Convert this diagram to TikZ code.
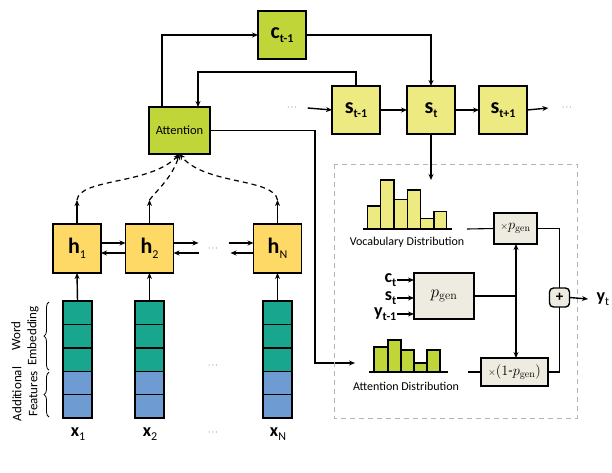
\documentclass[tikz,border=0pt]{standalone}
\usepackage[no-math]{fontspec}
\setmainfont{Carlito}
\usetikzlibrary{arrows.meta,positioning,decorations.pathreplacing}
\definecolor{attgreen}{RGB}{192,214,56}
\definecolor{decyellow}{RGB}{238,234,130}
\definecolor{encgold}{RGB}{255,217,102}
\definecolor{gatebeige}{RGB}{238,236,225}
\definecolor{embteal}{RGB}{24,166,142}
\definecolor{featblue}{RGB}{110,155,210}
\definecolor{framegray}{RGB}{180,180,180}
\newcommand{\vlab}[2]{\textbf{#1}\raisebox{-4.5pt}{\fontsize{12}{12}\selectfont #2}}
\tikzset{
  unit/.style={draw,line width=1.4pt,inner sep=0pt,outer sep=0pt,minimum width=48pt,minimum height=48pt,font=\fontsize{22}{22}\selectfont},
  gate/.style={draw,line width=1.4pt,fill=gatebeige,inner sep=0pt,outer sep=0pt},
  wordcell/.style={draw,line width=1.4pt,fill=embteal,inner sep=0pt,outer sep=0pt,minimum width=29pt,minimum height=23.4pt},
  featcell/.style={wordcell,fill=featblue},
  dotsym/.style={inner sep=0pt,font=\footnotesize},
  conn/.style={line width=1.1pt},
  attflow/.style={dashed,dash pattern=on 5pt off 4pt,line width=1.2pt,->},
  xlab/.style={inner sep=0pt,font=\fontsize{18}{18}\selectfont},
  distlab/.style={inner sep=0pt,font=\fontsize{12}{12}\selectfont},
  sidelab/.style={rotate=90,align=center,inner sep=0pt,font=\fontsize{13}{16}\selectfont},
}
\begin{document}
\begin{tikzpicture}[x=1pt,y=-1pt,>={Stealth[length=6pt,width=5pt]},line width=1.4pt]
   \useasboundingbox (0,0) rectangle (612,472);
   \begin{scope}
    \node[unit,fill=attgreen] (ctm) at (282,35) {\vlab{c}{\textbf{t-1}}};
    \node[unit,fill=attgreen,minimum width=61pt,minimum height=47pt,font=\fontsize{12.5}{12.5}\selectfont] (att) at (179.5,130.5) {Attention};
    \node[unit,fill=decyellow] (stm) at (356,110) {\vlab{s}{\textbf{t-1}}};
    \node[unit,fill=decyellow] (st) at (431,110) {\vlab{s}{\textbf{t}}};
    \node[unit,fill=decyellow] (stp) at (503,110) {\vlab{s}{\textbf{t+1}}};
    \node[dotsym] (dl) at (292,108) {$\cdots$};
    \node[dotsym] (dr) at (567,108) {$\cdots$};
    \draw[->] ([xshift=13pt]att.north west) |- (ctm.west);
    \draw[->] (ctm.east) -| (st.north);
    \draw[->] (stm.north) -- ++(0,-14) -| ([xshift=18.5pt]att.north);
    \draw[->] ([xshift=10pt]dl.east) -- (stm.west);
    \draw[->] (stm.east) -- (st.west);
    \draw[->] (st.east) -- (stp.west);
    \draw[->] (stp.east) -- ([xshift=-13pt]dr.west);
    \draw[->] (st.south) -- ++(0,46);
    \coordinate (attin) at (355,363);
    \draw[conn,->] (att.east) -- ++(105,0) |- (attin);
   \end{scope}
   \begin{scope}
    \node[unit,fill=encgold,minimum height=49pt] (h1) at (77,248.5) {\vlab{h}{1}};
    \node[unit,fill=encgold,minimum height=49pt] (h2) at (149.5,248.5) {\vlab{h}{2}};
    \node[unit,fill=encgold,minimum height=49pt] (hN) at (277.5,248.5) {\vlab{h}{N}};
    \node[dotsym] (dh) at (213,249) {$\cdots$};
    \draw[->] ([yshift=5.5pt]h1.east) -- ([yshift=5.5pt]h2.west);
    \draw[->] ([yshift=-4.5pt]h2.west) -- ([yshift=-4.5pt]h1.east);
    \draw[->] ([yshift=5.5pt]h2.east) -- ++(25,0);
    \draw[<-] ([yshift=-4.5pt]h2.east) -- ++(25,0);
    \draw[->] ([yshift=5.5pt]hN.west) ++(-25,0) -- ([yshift=5.5pt]hN.west);
    \draw[->] ([yshift=-4.5pt]hN.west) -- ++(-23,0);
    \coordinate (a1) at (77,200);
    \coordinate (a2) at (149.5,200);
    \coordinate (aN) at (277.5,200);
    \draw[->] (h1.north) -- (a1);
    \draw[->] (h2.north) -- (a2);
    \draw[->] (hN.north) -- (aN);
    \draw[attflow] (a1) .. controls (80,178) and (150,185) .. (att.south);
    \draw[attflow] (a2) .. controls (156,191) and (172,178) .. (att.south);
    \draw[attflow] (aN) .. controls (274,178) and (205,185) .. (att.south);
   \end{scope}
   \begin{scope}
    \node[wordcell] (w1a) at (77.5,312.7) {};
    \node[wordcell,below=0pt of w1a] (w1b) {};
    \node[wordcell,below=0pt of w1b] (w1c) {};
    \node[featcell,below=0pt of w1c] (f1a) {};
    \node[featcell,below=0pt of f1a] (f1b) {};
    \node[wordcell] (w2a) at (149.5,312.7) {};
    \node[wordcell,below=0pt of w2a] (w2b) {};
    \node[wordcell,below=0pt of w2b] (w2c) {};
    \node[featcell,below=0pt of w2c] (f2a) {};
    \node[featcell,below=0pt of f2a] (f2b) {};
    \node[wordcell] (wNa) at (277.5,312.7) {};
    \node[wordcell,below=0pt of wNa] (wNb) {};
    \node[wordcell,below=0pt of wNb] (wNc) {};
    \node[featcell,below=0pt of wNc] (fNa) {};
    \node[featcell,below=0pt of fNa] (fNb) {};
    \draw[->] (w1a.north) -- (h1.south);
    \draw[->] (w2a.north) -- (h2.south);
    \draw[->] (wNa.north) -- (hN.south);
    \node[dotsym] (dc) at (213,366) {$\cdots$};
    \node[xlab] (x1) at (78,434) {\vlab{x}{1}};
    \node[xlab] (x2) at (150,434) {\vlab{x}{2}};
    \node[xlab] (xN) at (278,434) {\vlab{x}{N}};
    \node[dotsym] (dx) at (213,433) {$\cdots$};
    \draw[decorate,decoration={brace,amplitude=5pt},line width=0.8pt] (w1c.south west) ++(-14,-1) -- ([xshift=-14pt,yshift=-1pt]w1a.north west);
    \draw[decorate,decoration={brace,amplitude=5pt},line width=0.8pt] (f1b.south west) ++(-14,-1) -- ([xshift=-14pt,yshift=-1pt]f1a.north west);
    \node[sidelab] (wemb) at (25,336) {Word\\Embedding};
    \node[sidelab] (afeat) at (25,394) {Additional\\Features};
   \end{scope}
   \begin{scope}
    \draw[framegray,dash pattern=on 5pt off 4pt,line width=1pt] (334,164) rectangle (577,418);
    \draw[fill=decyellow,line width=1.2pt] (367.7,229) rectangle (380.7,206.0);
    \draw[fill=decyellow,line width=1.2pt] (380.7,229) rectangle (394.0,180.0);
    \draw[fill=decyellow,line width=1.2pt] (394.0,229) rectangle (407.3,199.3);
    \draw[fill=decyellow,line width=1.2pt] (407.3,229) rectangle (420.7,190.0);
    \draw[fill=decyellow,line width=1.2pt] (420.7,229) rectangle (434.0,218.3);
    \draw[fill=decyellow,line width=1.2pt] (434.0,229) rectangle (446.7,211.7);
    \draw (363,229) -- (452,229);
    \node[distlab] (vocab) at (407,242) {Vocabulary Distribution};
    \draw[fill=attgreen,line width=1.2pt] (374,372) rectangle (388,347);
    \draw[fill=attgreen,line width=1.2pt] (388,372) rectangle (401,340);
    \draw[fill=attgreen,line width=1.2pt] (401,372) rectangle (414,350);
    \draw[fill=attgreen,line width=1.2pt] (414,372) rectangle (427,363);
    \draw[fill=attgreen,line width=1.2pt] (427,372) rectangle (440,350);
    \draw (369,372) -- (448,372);
    \node[distlab] (attd) at (406,386) {Attention Distribution};
    \node[gate,minimum width=43pt,minimum height=31pt,font=\fontsize{14}{14}\selectfont] (xpg) at (515.5,228.5) {${\scriptstyle\times}p_{\mathrm{gen}}$};
    \node[gate,minimum width=60pt,minimum height=46pt,font=\fontsize{18}{18}\selectfont] (pg) at (444,296) {$p_{\mathrm{gen}}$};
    \node[gate,minimum width=67pt,minimum height=28pt,font=\fontsize{14}{14}\selectfont] (ompg) at (514.5,372) {${\scriptstyle\times}(1\mbox{-}p_{\mathrm{gen}})$};
    \node[gate,rounded corners=4pt,minimum width=20pt,minimum height=19pt,font=\bfseries\fontsize{15}{15}\selectfont] (plus) at (559.5,297.5) {+};
    \node[xlab,anchor=east] (ci) at (397,280) {\vlab{c}{\textbf{t}}};
    \node[xlab,anchor=east] (si) at (397,298) {\vlab{s}{\textbf{t}}};
    \node[xlab,anchor=east] (yi) at (397,314) {\vlab{y}{\textbf{t-1}}};
    \node[xlab,anchor=west] (yt) at (596,299) {\vlab{y}{t}};
    \coordinate (vd) at (467,229);
    \coordinate (ad) at (468,372);
    \coordinate (jn) at (516,296);
    \draw[->] (ci.east) -- (ci.east -| pg.west);
    \draw[->] (si.east) -- (si.east -| pg.west);
    \draw[->] (yi.east) -- (yi.east -| pg.west);
    \draw[conn] (vd) -- (xpg.west);
    \draw[conn] (ad) -- (ompg.west);
    \draw[conn] (pg.east) -- (jn);
    \draw[->] (jn) -- (jn |- xpg.south);
    \draw[->] (jn) -- (jn |- ompg.north);
    \draw[conn] (xpg.east) -| (plus.north);
    \draw[conn] (ompg.east) -| (plus.south);
    \draw[->] (plus.east) -- ([xshift=-8pt]yt.west);
   \end{scope}
  \end{tikzpicture}
\end{document}
